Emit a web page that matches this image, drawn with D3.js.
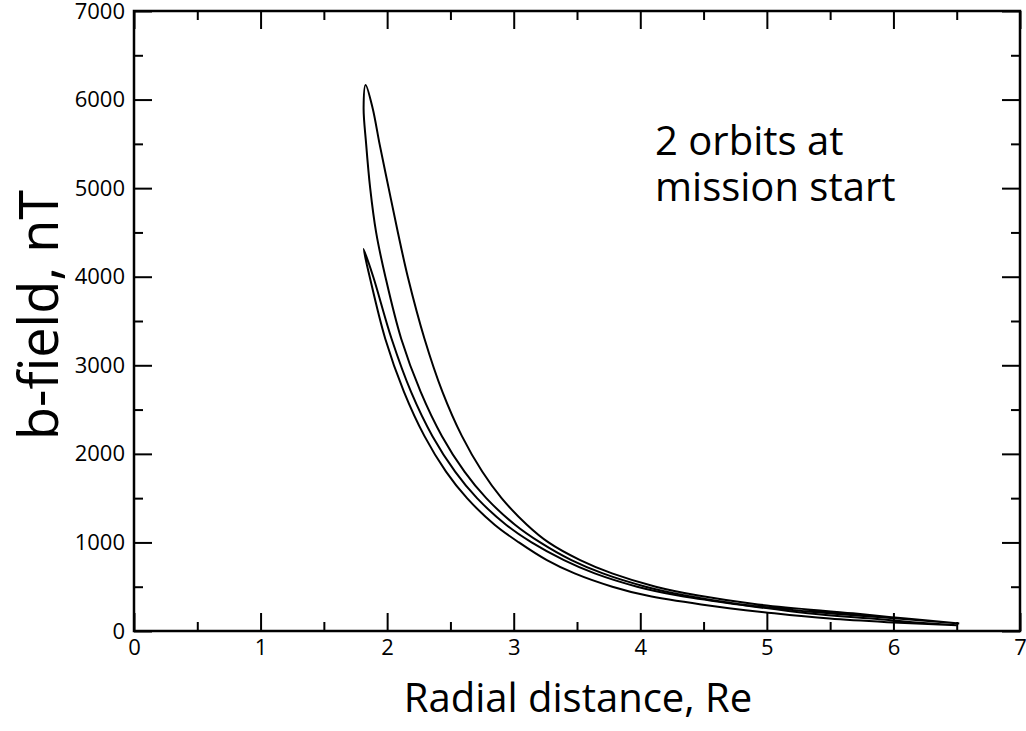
<!DOCTYPE html>
<html>
<head>
<meta charset="utf-8">
<script src="https://cdn.jsdelivr.net/npm/d3@7"></script>
<style>
  body { margin: 0; background: #fff; }
  text { font-family: "Open Sans", "Noto Sans", sans-serif; fill: #000; }
</style>
</head>
<body>
<svg id="chart" width="1026" height="731"></svg>
<script>
// axis ticks
var xTicks = [0, 1, 2, 3, 4, 5, 6, 7];
var xMinor = [0.5, 1.5, 2.5, 3.5, 4.5, 5.5, 6.5];
var yTicks = [0, 1000, 2000, 3000, 4000, 5000, 6000, 7000];
var yMinor = [500, 1500, 2500, 3500, 4500, 5500, 6500];

// orbit 1: apogee -> perigee (inner branch), peak, then back out (outer branch)
var orbit1R = [6.52, 6.03, 5.487, 4.793, 4.354, 4.042, 3.704, 3.456, 3.209, 3.010, 2.783, 2.611, 2.433, 2.265,
               2.111, 1.986, 1.913, 1.866, 1.834, 1.814, 1.83, 1.885, 1.940, 2.012, 2.085, 2.163, 2.295, 2.437,
               2.591, 2.751, 2.904, 3.104, 3.275, 3.525, 3.777, 4.122, 4.458, 4.930, 5.680, 6.10, 6.52];
var orbit1B = [85, 140, 200, 300, 400, 500, 650, 800, 1000, 1200, 1500, 1800, 2200, 2700,
               3300, 4000, 4500, 5000, 5500, 5905, 6165, 5905, 5500, 5000, 4500, 4000, 3300, 2700,
               2200, 1800, 1500, 1200, 1000, 800, 650, 500, 400, 300, 200, 140, 85];

// orbit 2
var orbit2R = [6.50, 5.95, 5.495, 5.058, 4.481, 4.053, 3.779, 3.481, 3.262, 3.041, 2.849, 2.631, 2.465, 2.295,
               2.133, 1.985, 1.862, 1.814, 1.89, 2.035, 2.189, 2.358, 2.537, 2.710, 2.939, 3.141, 3.397,
               3.640, 3.975, 4.300, 4.777, 5.324, 5.828, 6.15, 6.50];
var orbit2B = [65, 100, 140, 200, 300, 400, 500, 650, 800, 1000, 1200, 1500, 1800, 2200,
               2700, 3300, 4000, 4313, 4000, 3300, 2700, 2200, 1800, 1500, 1200, 1000, 800,
               650, 500, 400, 300, 200, 140, 100, 65];

var svg = d3.select("#chart");
var marginLeft = 134, marginTop = 11, width = 886, height = 620;

var x = d3.scaleLinear().domain([0, 7]).range([0, width]);
var y = d3.scaleLinear().domain([0, 7000]).range([height, 0]);

var g = svg.append("g").attr("transform", "translate(" + marginLeft + "," + marginTop + ")");

function styleAxis(sel, showLabels) {
  sel.select(".domain").remove();
  sel.selectAll(".tick line").attr("stroke", "#000").attr("stroke-width", 2);
  if (!showLabels) sel.selectAll(".tick text").remove();
  else sel.selectAll(".tick text").attr("fill", "#000")
          .style("font-size", "22px").style("font-family", "'Open Sans', sans-serif");
}

// bottom
g.append("g").attr("transform", "translate(0," + height + ")")
  .call(d3.axisBottom(x).tickValues(xTicks).tickSize(-18).tickPadding(8).tickFormat(d3.format("d")))
  .call(styleAxis, true);
g.append("g").attr("transform", "translate(0," + height + ")")
  .call(d3.axisBottom(x).tickValues(xMinor).tickSize(-9))
  .call(styleAxis, false);
// top
g.append("g").call(d3.axisTop(x).tickValues(xTicks).tickSize(-18)).call(styleAxis, false);
g.append("g").call(d3.axisTop(x).tickValues(xMinor).tickSize(-9)).call(styleAxis, false);
// left
g.append("g")
  .call(d3.axisLeft(y).tickValues(yTicks).tickSize(-18).tickPadding(9).tickFormat(d3.format("d")))
  .call(styleAxis, true);
g.append("g").call(d3.axisLeft(y).tickValues(yMinor).tickSize(-9)).call(styleAxis, false);
// right
g.append("g").attr("transform", "translate(" + width + ",0)")
  .call(d3.axisRight(y).tickValues(yTicks).tickSize(-18)).call(styleAxis, false);
g.append("g").attr("transform", "translate(" + width + ",0)")
  .call(d3.axisRight(y).tickValues(yMinor).tickSize(-9)).call(styleAxis, false);

// frame
g.append("rect").attr("width", width).attr("height", height)
  .attr("fill", "none").attr("stroke", "#000").attr("stroke-width", 2.5);

// curves
var line = d3.line()
  .x(function(d) { return x(d[0]); })
  .y(function(d) { return y(d[1]); })
  .curve(d3.curveCatmullRom.alpha(0.5));

[[orbit1R, orbit1B], [orbit2R, orbit2B]].forEach(function(o) {
  g.append("path")
    .datum(d3.zip(o[0], o[1]))
    .attr("d", line)
    .attr("fill", "none")
    .attr("stroke", "#000")
    .attr("stroke-width", 2);
});

// titles
svg.append("text").attr("x", 578).attr("y", 712).attr("text-anchor", "middle")
  .style("font-size", "40px").text("Radial distance, Re");
svg.append("text").attr("transform", "translate(58,315) rotate(-90)").attr("text-anchor", "middle")
  .style("font-size", "54px").text("b-field, nT");

svg.append("text").attr("x", 655).attr("y", 155).style("font-size", "40px").text("2 orbits at");
svg.append("text").attr("x", 655).attr("y", 201).style("font-size", "40px").text("mission start");
</script>
</body>
</html>
